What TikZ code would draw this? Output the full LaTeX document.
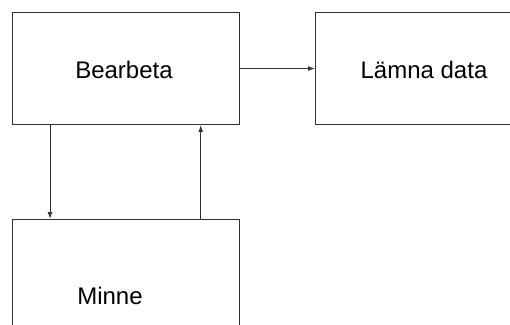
\documentclass[tikz,border=0pt]{standalone}
\usepackage{fontspec}
\setmainfont{Liberation Sans}
\usetikzlibrary{arrows.meta}
\begin{document}
\begin{tikzpicture}[x=1pt,y=1pt,
  box/.style={draw=black!80,line width=1pt,rectangle,inner sep=0pt,anchor=north west},
  lbl/.style={font=\fontsize{24}{28}\selectfont,inner sep=0pt},
  conn/.style={draw=black!80,line width=1pt,-{Latex[length=7pt,width=5pt]}}]
\useasboundingbox (0,0) rectangle (510,324);
\clip (0,0) rectangle (510,324);
\node[box,minimum width=227pt,minimum height=112pt] (bear) at (12,312) {};
\node[box,minimum width=215pt,minimum height=112pt] (lamna) at (315,312) {};
\node[box,minimum width=227pt,minimum height=140pt] (minne) at (12,105) {};
\node[lbl] (tb) at (124,254) {Bearbeta};
\node[lbl] (tl) at (424,254) {Lämna data};
\node[lbl] (tm) at (110,28) {Minne};
\draw[conn] (bear.east) -- (lamna.west);
\draw[conn] (bear.south west -| 50,0) -- (minne.north west -| 50,0);
\draw[conn] (minne.north west -| 200.7,0) -- (bear.south west -| 200.7,0);
\end{tikzpicture}
\end{document}
